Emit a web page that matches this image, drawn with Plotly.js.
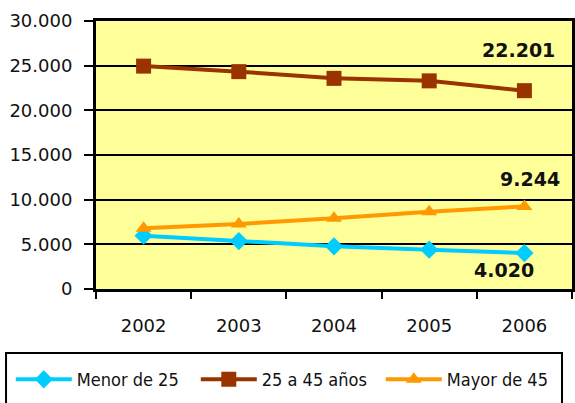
<!DOCTYPE html>
<html>
<head>
<meta charset="utf-8">
<script src="https://cdn.plot.ly/plotly-3.0.1.min.js"></script>
<style>
  html, body { margin:0; padding:0; background:#fff; }
  #chart { width:575px; height:403px; }
</style>
</head>
<body>
<div id="chart"></div>
<script>
// datos
const years = ["2002","2003","2004","2005","2006"];
const menor25 = [5970, 5370, 4780, 4400, 4020];
const de25a45 = [24950, 24330, 23580, 23300, 22201];
const mayor45 = [6800, 7280, 7910, 8650, 9244];
const seriesNames = ["Menor de 25", "25 a 45 años", "Mayor de 45"];
const yTicks = [0, 5000, 10000, 15000, 20000, 25000, 30000];

// etiquetas del último año
const lastLabels = ["4.020", "22.201", "9.244"];
const last = years.length - 1; // índice de 2006 en el eje de categorías

const traces = [
  {
    x: years, y: menor25, name: seriesNames[0],
    mode: "lines+markers",
    line: {color:"#00CCFF", width:4},
    marker: {symbol:"diamond", size:14, color:"#00CCFF"}
  },
  {
    x: years, y: de25a45, name: seriesNames[1],
    mode: "lines+markers",
    line: {color:"#993300", width:4},
    marker: {symbol:"square", size:15, color:"#993300"}
  },
  {
    x: years, y: mayor45, name: seriesNames[2],
    mode: "lines+markers",
    line: {color:"#FF9900", width:4},
    marker: {symbol:"triangle-up", size:14, color:"#FF9900"}
  }
];

const labelFont = {family:"DejaVu Sans", size:19, color:"#111", weight:"bold"};

const layout = {
  width:575, height:403,
  margin:{l:96, r:3, t:21, b:114, autoexpand:false},
  paper_bgcolor:"#ffffff",
  plot_bgcolor:"#FFFF99",
  separators:",.",
  font:{family:"DejaVu Sans", size:18, color:"#111"},
  showlegend:true,
  xaxis:{
    type:"category",
    tickson:"boundaries",
    ticks:"outside", ticklen:7, tickwidth:2, tickcolor:"#000",
    showgrid:false,
    showline:true, linecolor:"#000", linewidth:3, mirror:true,
    ticklabelstandoff:18,
    tickfont:{family:"DejaVu Sans", size:18, color:"#111"},
    range:[-0.5, 4.5],
    fixedrange:true
  },
  yaxis:{
    range:[0, 30000],
    tickvals:yTicks,
    tickformat:",d",
    ticks:"outside", ticklen:9, tickwidth:2, tickcolor:"#000",
    showgrid:true, gridcolor:"#000", gridwidth:2,
    zeroline:false,
    showline:true, linecolor:"#000", linewidth:3, mirror:true,
    ticklabelstandoff:8,
    tickfont:{family:"DejaVu Sans", size:18, color:"#111"},
    fixedrange:true
  },
  legend:{
    orientation:"h",
    x:-0.179, xanchor:"left",
    y:-0.269, yanchor:"top",
    bgcolor:"rgba(0,0,0,0)",
    borderwidth:0,
    itemwidth:56,
    entrywidth:114,
    font:{family:"DejaVu Sans Condensed", size:18, color:"#111"}
  },
  shapes:[{
    type:"rect", xref:"paper", yref:"paper",
    x0:-0.189, x1:0.979, y0:-0.239, y1:-0.46,
    line:{color:"#000", width:2},
    fillcolor:"rgba(0,0,0,0)",
    layer:"below"
  }],
  annotations:[
    {x:last, y:de25a45[last], text:lastLabels[1], showarrow:false,
     xshift:-6, yshift:41, font:labelFont},
    {x:last, y:mayor45[last], text:lastLabels[2], showarrow:false,
     xshift:6, yshift:27, font:labelFont},
    {x:last, y:menor25[last], text:lastLabels[0], showarrow:false,
     xshift:-20, yshift:-17, font:labelFont}
  ]
};

Plotly.newPlot("chart", traces, layout, {displayModeBar:false, staticPlot:true});
</script>
</body>
</html>
